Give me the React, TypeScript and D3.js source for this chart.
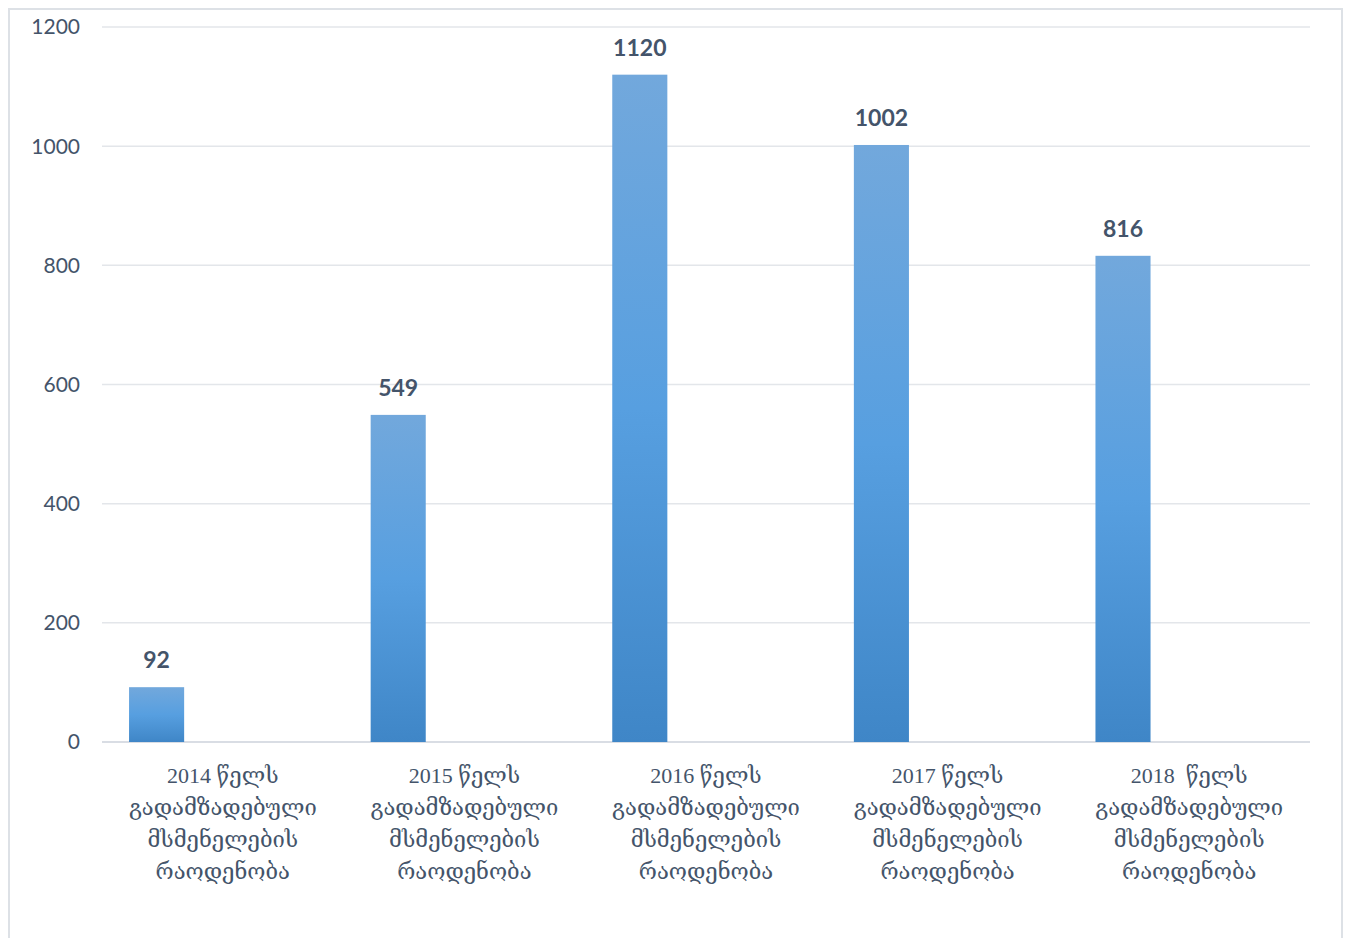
import { useEffect, useRef } from 'react';
import * as d3 from 'd3';

const years = ['2014 წელს', '2015 წელს', '2016 წელს', '2017 წელს', '2018  წელს'];
const labelTail = ['გადამზადებული', 'მსმენელების', 'რაოდენობა'];
const values = [92, 549, 1120, 1002, 816];
const yTicks = [0, 200, 400, 600, 800, 1000, 1200];

export default function App() {
  const svgRef = useRef<SVGSVGElement>(null);

  useEffect(() => {
    const svg = d3.select(svgRef.current);
    svg.selectAll('*').remove();

    const height = 938;
    const left = 102;
    const right = 1310;
    const top = 27;
    const bottom = 742;
    const textColor = '#44546a';

    // outer frame
    svg.append('rect')
      .attr('x', 9)
      .attr('y', 9)
      .attr('width', 1333)
      .attr('height', height + 10)
      .attr('fill', 'white')
      .attr('stroke', '#dde1e6')
      .attr('stroke-width', 2);

    const x = d3.scaleBand<number>()
      .domain(d3.range(years.length))
      .range([left, right]);

    const y = d3.scaleLinear()
      .domain([0, 1200])
      .range([bottom, top]);

    const defs = svg.append('defs');
    const grad = defs.append('linearGradient')
      .attr('id', 'barGrad')
      .attr('x1', 0).attr('y1', 0)
      .attr('x2', 0).attr('y2', 1);
    grad.append('stop').attr('offset', '0%').attr('stop-color', '#72a8dc');
    grad.append('stop').attr('offset', '50%').attr('stop-color', '#579fe0');
    grad.append('stop').attr('offset', '100%').attr('stop-color', '#3f86c7');

    // gridlines
    svg.append('g')
      .selectAll('line')
      .data(yTicks)
      .enter().append('line')
      .attr('x1', left)
      .attr('x2', right)
      .attr('y1', d => y(d))
      .attr('y2', d => y(d))
      .attr('stroke', d => d === 0 ? '#d9dde4' : '#e3e6ea')
      .attr('stroke-width', d => d === 0 ? 2 : 1.5);

    // y tick labels
    svg.append('g')
      .selectAll('text')
      .data(yTicks)
      .enter().append('text')
      .attr('x', 80)
      .attr('y', d => y(d))
      .attr('dy', '0.35em')
      .attr('text-anchor', 'end')
      .style('font-family', 'Lato, "Open Sans", sans-serif')
      .style('font-size', '21px')
      .style('fill', textColor)
      .text(d => d);

    const bw = x.bandwidth();
    const barW = bw * 0.228;
    const barOff = bw * 0.112;

    // bars
    svg.append('g')
      .selectAll('rect')
      .data(values)
      .enter().append('rect')
      .attr('x', (d, i) => x(i)! + barOff)
      .attr('y', d => y(d))
      .attr('width', barW)
      .attr('height', d => bottom - y(d))
      .attr('fill', 'url(#barGrad)');

    // value labels
    svg.append('g')
      .selectAll('text')
      .data(values)
      .enter().append('text')
      .attr('x', (d, i) => x(i)! + barOff + barW / 2)
      .attr('y', d => y(d) - 19)
      .attr('text-anchor', 'middle')
      .style('font-family', 'Lato, "Open Sans", sans-serif')
      .style('font-weight', 'bold')
      .style('font-size', '23px')
      .style('fill', textColor)
      .text(d => d);

    // category labels
    const cats = svg.append('g')
      .selectAll('text')
      .data(years)
      .enter().append('text')
      .attr('x', (d, i) => x(i)! + bw / 2)
      .attr('y', 775)
      .attr('text-anchor', 'middle')
      .style('font-family', '"Liberation Serif", "DejaVu Serif", serif')
      .style('font-size', '22px')
      .style('white-space', 'pre')
      .style('fill', textColor);

    cats.each(function (d) {
      const t = d3.select(this);
      const lines = [d, ...labelTail];
      lines.forEach((line, j) => {
        t.append('tspan')
          .attr('x', t.attr('x'))
          .attr('y', 775 + j * 32)
          .attr('dy', '0.35em')
          .text(line);
      });
    });
  }, []);

  return (
    <svg
      ref={svgRef}
      width={1351}
      height={938}
      style={{ position: 'absolute', left: 0, top: 0, background: 'white' }}
    />
  );
}
